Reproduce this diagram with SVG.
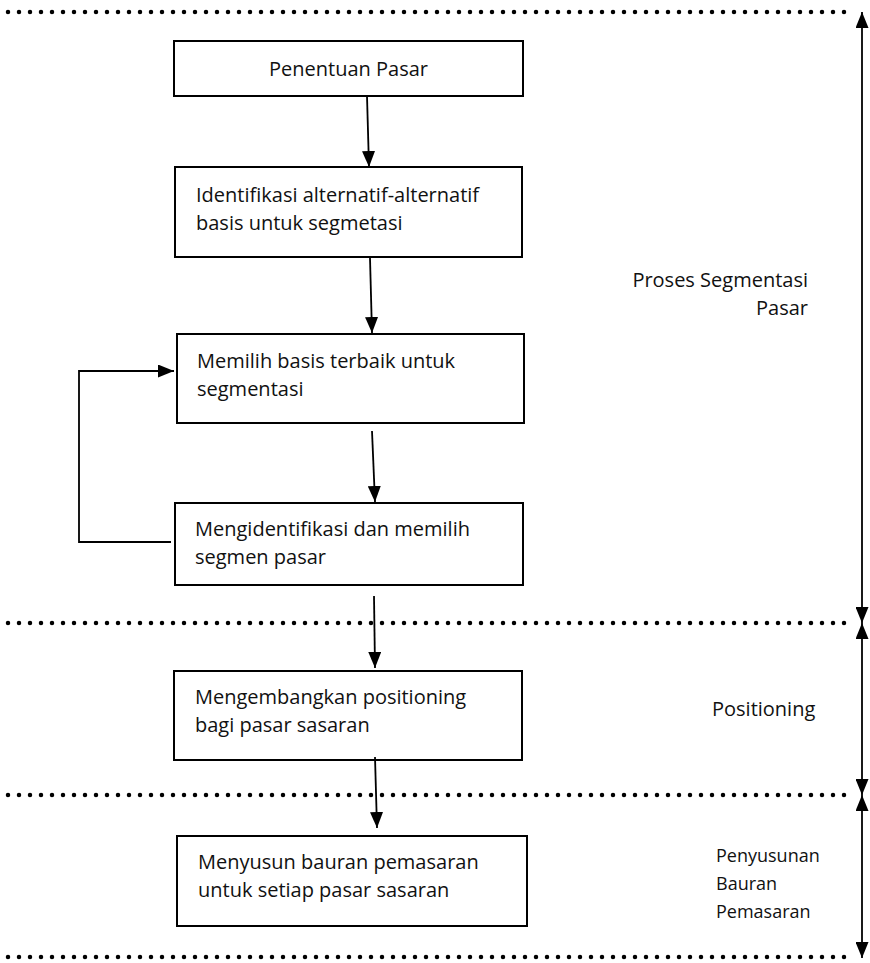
<svg xmlns="http://www.w3.org/2000/svg" width="870" height="963" viewBox="0 0 870 963">
<style>
.box{fill:#fff;stroke:#000;stroke-width:2}
.t{font-family:"Open Sans","Noto Sans","DejaVu Sans",sans-serif;font-size:20px;fill:#111}
.s{font-size:18px}
.c{fill:none;stroke:#000;stroke-width:1.8}
.dot{fill:none;stroke:#000;stroke-width:4.5;stroke-linecap:round;stroke-dasharray:0 11}
</style>
<defs>
<marker id="ah" viewBox="0 0 16 13" refX="16" refY="6.5" markerWidth="16" markerHeight="13" markerUnits="userSpaceOnUse" orient="auto-start-reverse">
<path d="M0,0 L16,6.5 L0,13 z" fill="#000"/>
</marker>
</defs>
<g id="dividers">
<line class="dot" x1="8" y1="12" x2="855" y2="12"/>
<line class="dot" x1="8" y1="623" x2="855" y2="623"/>
<line class="dot" x1="8" y1="795" x2="855" y2="795"/>
<line class="dot" x1="8" y1="957" x2="855" y2="957"/>
</g>
<g id="n1"><rect class="box" x="174" y="41" width="349" height="55"/><text class="t" x="348.5" y="76" text-anchor="middle">Penentuan Pasar</text></g>
<g id="n2"><rect class="box" x="175" y="167" width="347" height="90"/><text class="t" x="196" y="202">Identifikasi alternatif-alternatif</text><text class="t" x="196" y="230">basis untuk segmetasi</text></g>
<g id="n3"><rect class="box" x="177" y="334" width="347" height="89"/><text class="t" x="197" y="368">Memilih basis terbaik untuk</text><text class="t" x="197" y="396">segmentasi</text></g>
<g id="n4"><rect class="box" x="175" y="503" width="348" height="82"/><text class="t" x="195" y="536">Mengidentifikasi dan memilih</text><text class="t" x="195" y="564">segmen pasar</text></g>
<g id="n5"><rect class="box" x="174" y="671" width="348" height="89"/><text class="t" x="195" y="704">Mengembangkan positioning</text><text class="t" x="195" y="732">bagi pasar sasaran</text></g>
<g id="n6"><rect class="box" x="177" y="836" width="350" height="90"/><text class="t" x="198" y="869">Menyusun bauran pemasaran</text><text class="t" x="198" y="897">untuk setiap pasar sasaran</text></g>
<g id="labels">
<text class="t" x="808" y="287" text-anchor="end">Proses Segmentasi</text>
<text class="t" x="808" y="315" text-anchor="end">Pasar</text>
<text class="t" x="712" y="716">Positioning</text>
<text class="t s" x="716" y="862">Penyusunan</text>
<text class="t s" x="716" y="890">Bauran</text>
<text class="t s" x="716" y="918">Pemasaran</text>
</g>
<g id="connectors">
<line class="c" x1="367" y1="96" x2="369" y2="167" marker-end="url(#ah)"/>
<line class="c" x1="370" y1="258" x2="372" y2="333" marker-end="url(#ah)"/>
<line class="c" x1="372" y1="431" x2="375" y2="502" marker-end="url(#ah)"/>
<line class="c" x1="374" y1="596" x2="375" y2="668" marker-end="url(#ah)"/>
<line class="c" x1="375" y1="757" x2="377" y2="828" marker-end="url(#ah)"/>
<polyline class="c" points="171,542 79,542 79,371 174,371" marker-end="url(#ah)"/>
<line class="c" x1="862" y1="12" x2="862" y2="623" marker-start="url(#ah)" marker-end="url(#ah)"/>
<line class="c" x1="862" y1="623" x2="862" y2="795" marker-start="url(#ah)" marker-end="url(#ah)"/>
<line class="c" x1="862" y1="795" x2="862" y2="958" marker-start="url(#ah)" marker-end="url(#ah)"/>
</g>
</svg>
